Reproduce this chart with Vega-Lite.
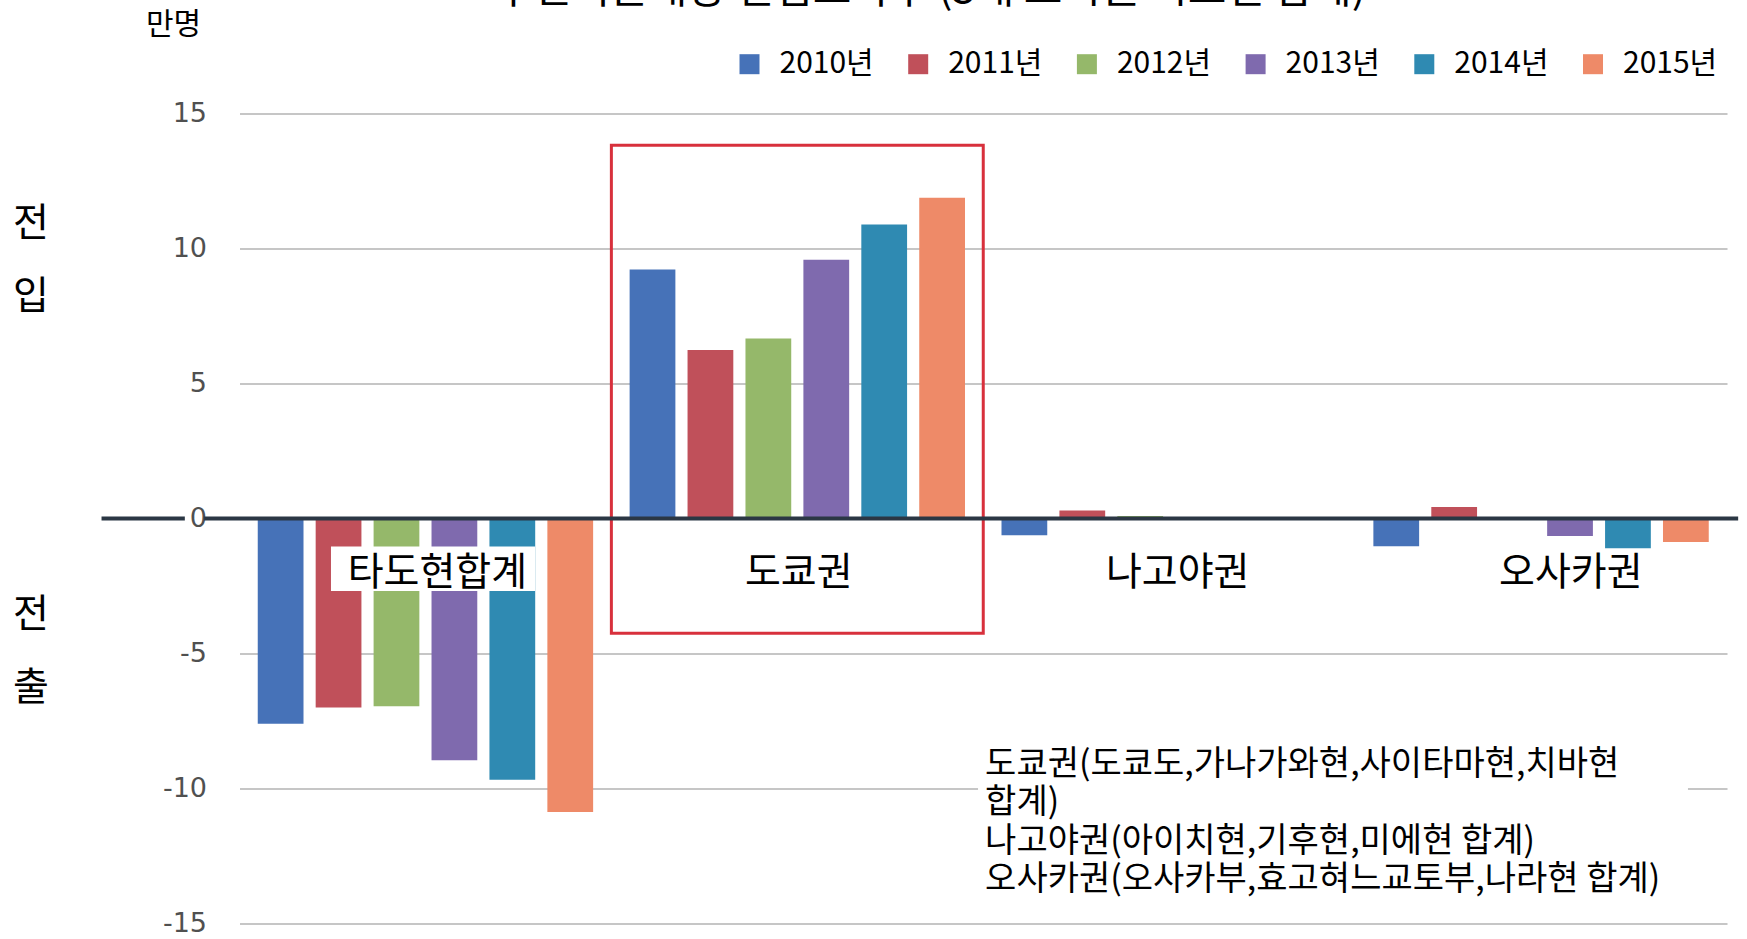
{
  "$schema": "https://vega.github.io/schema/vega-lite/v6.json",
  "width": 1487.5,
  "height": 810,
  "autosize": {"type": "none"},
  "padding": {"left": 239.5, "top": 113.6, "right": 20, "bottom": 15.4},
  "background": "white",
  "config": {"view": {"stroke": null}, "font": "Noto Sans CJK KR"},
  "resolve": {"scale": {"x": "independent"}},
  "layer": [
    {
      "data": {
        "values": [
          {"category": "타도현합계", "year": "2010년", "value": -7.6},
          {"category": "타도현합계", "year": "2011년", "value": -7.0},
          {"category": "타도현합계", "year": "2012년", "value": -6.95},
          {"category": "타도현합계", "year": "2013년", "value": -8.95},
          {"category": "타도현합계", "year": "2014년", "value": -9.67},
          {"category": "타도현합계", "year": "2015년", "value": -10.87},
          {"category": "도쿄권", "year": "2010년", "value": 9.23},
          {"category": "도쿄권", "year": "2011년", "value": 6.24},
          {"category": "도쿄권", "year": "2012년", "value": 6.67},
          {"category": "도쿄권", "year": "2013년", "value": 9.59},
          {"category": "도쿄권", "year": "2014년", "value": 10.89},
          {"category": "도쿄권", "year": "2015년", "value": 11.88},
          {"category": "나고야권", "year": "2010년", "value": -0.62},
          {"category": "나고야권", "year": "2011년", "value": 0.3},
          {"category": "나고야권", "year": "2012년", "value": 0.1},
          {"category": "나고야권", "year": "2013년", "value": 0},
          {"category": "나고야권", "year": "2014년", "value": 0},
          {"category": "나고야권", "year": "2015년", "value": 0},
          {"category": "오사카권", "year": "2010년", "value": -1.02},
          {"category": "오사카권", "year": "2011년", "value": 0.43},
          {"category": "오사카권", "year": "2012년", "value": 0},
          {"category": "오사카권", "year": "2013년", "value": -0.64},
          {"category": "오사카권", "year": "2014년", "value": -1.1},
          {"category": "오사카권", "year": "2015년", "value": -0.87}
        ]
      },
      "layer": [
        {
          "mark": {"type": "bar"},
          "encoding": {
            "x": {
              "field": "category", "type": "nominal", "axis": null,
              "scale": {"domain": ["타도현합계", "도쿄권", "나고야권", "오사카권"], "paddingInner": 0, "paddingOuter": 0}
            },
            "xOffset": {
              "field": "year", "type": "nominal",
              "scale": {"paddingInner": 0.21, "paddingOuter": 0.315}
            },
            "y": {
              "field": "value", "type": "quantitative",
              "scale": {"domain": [-15, 15], "nice": false},
              "axis": {
                "title": "만명", "titleAngle": 0, "titleX": -66.5, "titleY": -89,
                "titleAlign": "center", "titleBaseline": "middle",
                "titleFont": "Noto Sans CJK KR", "titleFontSize": 30, "titleFontWeight": "normal", "titleColor": "#000",
                "values": [-15, -10, -5, 0, 5, 10, 15],
                "labelExpr": "'' + datum.value",
                "labelFont": "DejaVu Sans", "labelFontSize": 27, "labelColor": "#505050", "labelPadding": 33,
                "ticks": false, "domain": false,
                "grid": true, "gridColor": "#c6c6c6", "gridWidth": 2
              }
            },
            "color": {
              "field": "year", "type": "nominal",
              "scale": {
                "domain": ["2010년", "2011년", "2012년", "2013년", "2014년", "2015년"],
                "range": ["#4672b8", "#c0505a", "#95b86a", "#7f6aae", "#2f8ab2", "#ee8a68"]
              },
              "legend": {
                "title": null, "orient": "none", "legendX": 495, "legendY": -64.4,
                "direction": "horizontal", "symbolType": "square", "symbolSize": 400,
                "symbolStrokeWidth": 0, "labelFontSize": 30, "labelFont": "Noto Sans CJK KR",
                "labelColor": "#000", "labelOffset": 15, "columnPadding": 28.7, "padding": 0
              }
            }
          }
        },
        {
          "data": {"values": [{"box": "도쿄권"}]},
          "mark": {"type": "rect", "fill": null, "stroke": "#d8303c", "strokeWidth": 3},
          "encoding": {
            "x": {"field": "box", "type": "nominal", "axis": null},
            "y": {"datum": 13.83, "type": "quantitative"},
            "y2": {"datum": -4.25}
          }
        }
      ]
    },
    {
      "data": {"values": [{}]},
      "layer": [
        {
          "mark": {"type": "text", "text": "주민기본대장 전입초과수 (3대 도시권 시도현 합계)", "fontSize": 42, "baseline": "alphabetic", "align": "center", "color": "#000"},
          "encoding": {
            "x": {"datum": 1.857, "type": "quantitative", "axis": null, "scale": {"domain": [0, 4], "nice": false, "zero": false}},
            "y": {"datum": 19.08, "type": "quantitative"}
          }
        },
        {
          "mark": {"type": "text", "text": ["전", "입"], "fontSize": 39, "lineHeight": 73, "baseline": "middle", "align": "center", "color": "#000"},
          "encoding": {
            "x": {"datum": -0.5606, "type": "quantitative", "axis": null},
            "y": {"datum": 10.9, "type": "quantitative"}
          }
        },
        {
          "mark": {"type": "text", "text": ["전", "출"], "fontSize": 39, "lineHeight": 73, "baseline": "middle", "align": "center", "color": "#000"},
          "encoding": {
            "x": {"datum": -0.5606, "type": "quantitative", "axis": null},
            "y": {"datum": -3.57, "type": "quantitative"}
          }
        },
        {
          "mark": {"type": "rect", "fill": "white"},
          "encoding": {
            "x": {"datum": 0.246, "type": "quantitative", "axis": null},
            "x2": {"datum": 0.795},
            "y": {"datum": -1.03, "type": "quantitative"},
            "y2": {"datum": -2.68}
          }
        },
        {
          "mark": {"type": "rect", "fill": "white"},
          "encoding": {
            "x": {"datum": 1.986, "type": "quantitative", "axis": null},
            "x2": {"datum": 3.895},
            "y": {"datum": -8.46, "type": "quantitative"},
            "y2": {"datum": -14.15}
          }
        },
        {
          "mark": {"type": "text", "text": "타도현합계", "fontSize": 39, "baseline": "middle", "align": "center", "color": "#000"},
          "encoding": {
            "x": {"datum": 0.532, "type": "quantitative", "axis": null},
            "y": {"datum": -2.02, "type": "quantitative"}
          }
        },
        {
          "mark": {"type": "text", "text": "도쿄권", "fontSize": 39, "baseline": "middle", "align": "center", "color": "#000"},
          "encoding": {
            "x": {"datum": 1.504, "type": "quantitative", "axis": null},
            "y": {"datum": -2.02, "type": "quantitative"}
          }
        },
        {
          "mark": {"type": "text", "text": "나고야권", "fontSize": 39, "baseline": "middle", "align": "center", "color": "#000"},
          "encoding": {
            "x": {"datum": 2.523, "type": "quantitative", "axis": null},
            "y": {"datum": -2.02, "type": "quantitative"}
          }
        },
        {
          "mark": {"type": "text", "text": "오사카권", "fontSize": 39, "baseline": "middle", "align": "center", "color": "#000"},
          "encoding": {
            "x": {"datum": 3.58, "type": "quantitative", "axis": null},
            "y": {"datum": -2.02, "type": "quantitative"}
          }
        },
        {
          "mark": {"type": "text", "text": ["도쿄권(도쿄도,가나가와현,사이타마현,치바현", "합계)", "나고야권(아이치현,기후현,미에현 합계)", "오사카권(오사카부,효고혀느교토부,나라현 합계)"], "fontSize": 34, "lineHeight": 38.5, "baseline": "middle", "align": "left", "color": "#000"},
          "encoding": {
            "x": {"datum": 2.005, "type": "quantitative", "axis": null},
            "y": {"datum": -9.12, "type": "quantitative"}
          }
        },
        {
          "mark": {"type": "rule", "strokeWidth": 4, "color": "#2b3744"},
          "encoding": {
            "x": {"datum": -0.371, "type": "quantitative", "axis": null},
            "x2": {"datum": -0.147},
            "y": {"datum": 0, "type": "quantitative"}
          }
        },
        {
          "mark": {"type": "rule", "strokeWidth": 4, "color": "#2b3744"},
          "encoding": {
            "x": {"datum": -0.095, "type": "quantitative", "axis": null},
            "x2": {"datum": 4.03},
            "y": {"datum": 0, "type": "quantitative"}
          }
        }
      ]
    }
  ]
}
